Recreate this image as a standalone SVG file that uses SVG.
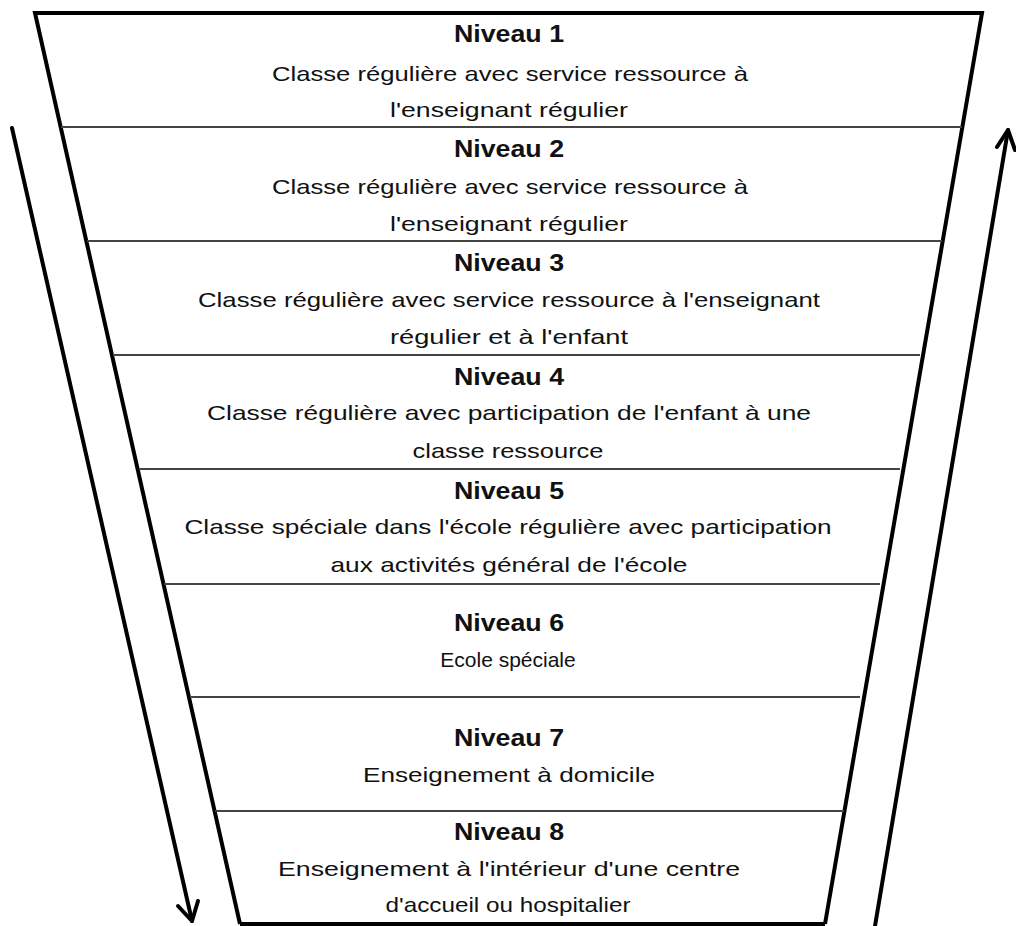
<svg xmlns="http://www.w3.org/2000/svg" width="1016" height="926" viewBox="0 0 1016 926">
<defs>
<style>
.t{font-family:"Liberation Sans",Arial,sans-serif;font-size:21px;fill:#111;text-anchor:middle}
.b{font-weight:bold;font-size:24px}
.edge{stroke:#000;stroke-width:4;fill:none;stroke-linejoin:miter}
.div{stroke:#444;stroke-width:2}
.arr{stroke:#000;stroke-width:4;fill:none;stroke-linecap:round;stroke-linejoin:round}
</style>
</defs>
<rect width="1016" height="926" fill="#fff"/>
<g id="funnel">
<path class="edge" d="M240,924 L35,13 L982,13 L825,924"/>
<line class="edge" x1="240" y1="924" x2="825" y2="924"/>
</g>
<g id="dividers">
<line class="div" x1="61" y1="127" x2="962" y2="127"/>
<line class="div" x1="87" y1="241" x2="942" y2="241"/>
<line class="div" x1="113" y1="355" x2="920" y2="355"/>
<line class="div" x1="139" y1="469" x2="900" y2="469"/>
<line class="div" x1="164" y1="584" x2="880" y2="584"/>
<line class="div" x1="190" y1="697" x2="860" y2="697"/>
<line class="div" x1="215" y1="811" x2="844" y2="811"/>
</g>
<g id="connectors">
<path class="arr" d="M12,128 L192,921"/>
<path class="arr" d="M178,906 L192,921 L198,901"/>
<path class="arr" d="M875,926 L1008,130"/>
<path class="arr" d="M997,147 L1008,130 L1015,150"/>
</g>
<g id="niveau1">
<text class="t b" x="509" y="42" textLength="110" lengthAdjust="spacingAndGlyphs">Niveau 1</text>
<text class="t" x="510" y="81" textLength="476" lengthAdjust="spacingAndGlyphs">Classe régulière avec service ressource à</text>
<text class="t" x="509" y="117" textLength="238" lengthAdjust="spacingAndGlyphs">l'enseignant régulier</text>
</g>
<g id="niveau2">
<text class="t b" x="509" y="157" textLength="110" lengthAdjust="spacingAndGlyphs">Niveau 2</text>
<text class="t" x="510" y="194" textLength="476" lengthAdjust="spacingAndGlyphs">Classe régulière avec service ressource à</text>
<text class="t" x="509" y="231" textLength="238" lengthAdjust="spacingAndGlyphs">l'enseignant régulier</text>
</g>
<g id="niveau3">
<text class="t b" x="509" y="271" textLength="110" lengthAdjust="spacingAndGlyphs">Niveau 3</text>
<text class="t" x="509" y="307" textLength="622" lengthAdjust="spacingAndGlyphs">Classe régulière avec service ressource à l'enseignant</text>
<text class="t" x="509" y="344" textLength="238" lengthAdjust="spacingAndGlyphs">régulier et à l'enfant</text>
</g>
<g id="niveau4">
<text class="t b" x="509" y="385" textLength="110" lengthAdjust="spacingAndGlyphs">Niveau 4</text>
<text class="t" x="509" y="420" textLength="604" lengthAdjust="spacingAndGlyphs">Classe régulière avec participation de l'enfant à une</text>
<text class="t" x="508" y="458" textLength="191" lengthAdjust="spacingAndGlyphs">classe ressource</text>
</g>
<g id="niveau5">
<text class="t b" x="509" y="499" textLength="110" lengthAdjust="spacingAndGlyphs">Niveau 5</text>
<text class="t" x="508" y="534" textLength="647" lengthAdjust="spacingAndGlyphs">Classe spéciale dans l'école régulière avec participation</text>
<text class="t" x="509" y="572" textLength="357" lengthAdjust="spacingAndGlyphs">aux activités général de l'école</text>
</g>
<g id="niveau6">
<text class="t b" x="509" y="631" textLength="110" lengthAdjust="spacingAndGlyphs">Niveau 6</text>
<text class="t" x="508" y="667">Ecole spéciale</text>
</g>
<g id="niveau7">
<text class="t b" x="509" y="746" textLength="110" lengthAdjust="spacingAndGlyphs">Niveau 7</text>
<text class="t" x="509" y="782" textLength="292" lengthAdjust="spacingAndGlyphs">Enseignement à domicile</text>
</g>
<g id="niveau8">
<text class="t b" x="509" y="840" textLength="110" lengthAdjust="spacingAndGlyphs">Niveau 8</text>
<text class="t" x="509" y="876" textLength="462" lengthAdjust="spacingAndGlyphs">Enseignement à l'intérieur d'une centre</text>
<text class="t" x="508" y="912" textLength="245" lengthAdjust="spacingAndGlyphs">d'accueil ou hospitalier</text>
</g>
</svg>
